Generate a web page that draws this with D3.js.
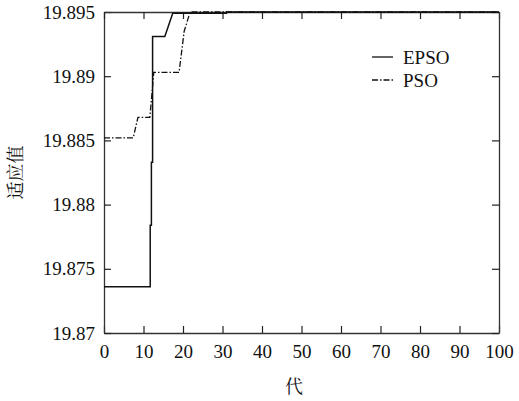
<!DOCTYPE html>
<html>
<head>
<meta charset="utf-8">
<script src="https://cdn.jsdelivr.net/npm/d3@7"></script>
<style>
  body { margin: 0; background: #fff; }
</style>
</head>
<body>
<div id="chart"></div>
<script>
// convergence curves
var epsoGen = [0, 11.7, 11.7, 12, 12, 12.3, 12.3, 15.4, 17.4, 31, 31, 100];
var epsoFit = [19.8736, 19.8736, 19.8784, 19.8784, 19.8833, 19.8833, 19.8931, 19.8931, 19.8949, 19.8949, 19.895, 19.895];

var psoGen = [0, 7.4, 8.6, 11.6, 12.1, 12.6, 19, 20.3, 21.8, 100];
var psoFit = [19.8852, 19.8852, 19.8868, 19.8868, 19.8885, 19.8903, 19.8903, 19.8935, 19.895, 19.895];

var xTicks = [0, 10, 20, 30, 40, 50, 60, 70, 80, 90, 100];
var yTicks = [19.87, 19.875, 19.88, 19.885, 19.89, 19.895];

var seriesNames = ["EPSO", "PSO"];

var width = 519, height = 401;
var margin = {top: 12, right: 20, bottom: 68, left: 104};
var w = width - margin.left - margin.right,
    h = height - margin.top - margin.bottom;

var serif = "Liberation Serif";
var cjk = "Noto Serif CJK SC";

var x = d3.scaleLinear().domain([0, 100]).range([0, w]);
var y = d3.scaleLinear().domain([19.87, 19.895]).range([h, 0]);

var svg = d3.select("#chart").append("svg")
    .attr("width", width)
    .attr("height", height);

var g = svg.append("g")
    .attr("transform", "translate(" + margin.left + "," + margin.top + ")");

var fmt = function(d) { return String(+d.toFixed(3)); };

function styleAxis(a) {
  a.attr("font-family", serif).attr("font-size", 19);
  a.selectAll("text").attr("fill", "#111");
  a.selectAll(".domain").attr("stroke", "#333").attr("stroke-width", 1.3);
  a.selectAll(".tick line").attr("stroke", "#222").attr("stroke-width", 1.2);
}

// bottom + left axes with labels, ticks pointing inward
g.append("g")
    .attr("transform", "translate(0," + h + ")")
    .call(d3.axisBottom(x).tickValues(xTicks).tickSizeInner(-7).tickSizeOuter(0).tickPadding(12))
    .call(styleAxis);

g.append("g")
    .call(d3.axisLeft(y).tickValues(yTicks).tickFormat(fmt).tickSizeInner(-7).tickSizeOuter(0).tickPadding(9))
    .call(styleAxis);

// top + right, ticks only
g.append("g")
    .call(d3.axisTop(x).tickValues(xTicks).tickSizeInner(-7).tickSizeOuter(0).tickFormat(""))
    .call(styleAxis);

g.append("g")
    .attr("transform", "translate(" + w + ",0)")
    .call(d3.axisRight(y).tickValues(yTicks).tickSizeInner(-7).tickSizeOuter(0).tickFormat(""))
    .call(styleAxis);

var line = d3.line()
    .x(function(d) { return x(d[0]); })
    .y(function(d) { return y(d[1]); });

var epso = epsoGen.map(function(d, i) { return [d, epsoFit[i]]; });
var pso = psoGen.map(function(d, i) { return [d, psoFit[i]]; });

g.append("path")
    .datum(pso)
    .attr("fill", "none")
    .attr("stroke", "#111")
    .attr("stroke-width", 1.3)
    .attr("stroke-dasharray", "6,2,1.5,2")
    .attr("d", line);

g.append("path")
    .datum(epso)
    .attr("fill", "none")
    .attr("stroke", "#111")
    .attr("stroke-width", 1.5)
    .attr("d", line);

// legend
var legend = g.append("g").attr("transform", "translate(268,45)");
seriesNames.forEach(function(name, i) {
  var row = legend.append("g").attr("transform", "translate(0," + (i * 23) + ")");
  row.append("line")
      .attr("x1", 0).attr("x2", 21)
      .attr("stroke", "#111")
      .attr("stroke-width", 1.3)
      .attr("stroke-dasharray", i === 0 ? null : "6,2,1.5,2");
  row.append("text")
      .attr("x", 31)
      .attr("dy", "0.35em")
      .attr("fill", "#111")
      .attr("font-family", serif)
      .attr("font-size", 19)
      .text(name);
});

// axis titles
svg.append("text")
    .attr("transform", "translate(16," + (margin.top + h / 2) + ") rotate(-90)")
    .attr("text-anchor", "middle")
    .attr("dy", "0.35em")
    .attr("fill", "#111")
    .attr("font-family", cjk)
    .attr("font-size", 18)
    .text("适应值");

svg.append("text")
    .attr("x", 294)
    .attr("y", 387)
    .attr("text-anchor", "middle")
    .attr("dy", "0.35em")
    .attr("fill", "#111")
    .attr("font-family", cjk)
    .attr("font-size", 18)
    .text("代");
</script>
</body>
</html>
